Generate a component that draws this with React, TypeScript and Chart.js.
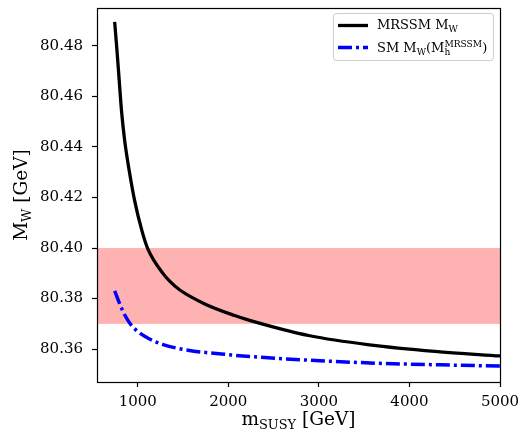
import { useEffect, useRef } from 'react';
import { Chart, registerables } from 'chart.js';

Chart.register(...registerables);

// ---- data ----
const mrssmMSusy = [745, 770, 795, 820, 855, 905, 965, 1045, 1110, 1280, 1355, 1465, 1740, 2070, 2235, 2900, 3560, 4280, 5000];
const mrssmMW = [80.4895, 80.4784, 80.4665, 80.4546, 80.4427, 80.4308, 80.4189, 80.407, 80.3998, 80.3899, 80.3868, 80.3834, 80.3779, 80.3733, 80.3714, 80.3653, 80.3617, 80.3591, 80.3573];

const smMSusy = [745, 800, 855, 930, 1005, 1115, 1280, 1555, 2035, 2235, 2900, 3670, 4335, 5000];
const smMW = [80.3831, 80.378, 80.3736, 80.3694, 80.3669, 80.3643, 80.3618, 80.3596, 80.3577, 80.3571, 80.3556, 80.3544, 80.3538, 80.3533];

const expBand = [80.37, 80.40];
const xTicks = [1000, 2000, 3000, 4000, 5000];
const yTicks = [80.36, 80.38, 80.40, 80.42, 80.44, 80.46, 80.48];
const xRange = [550, 5000];
const yRange = [80.347, 80.495];

const FONT = '"DejaVu Serif", "Liberation Serif", serif';
const dashDot = [14, 4, 3, 4];

type Seg = { t?: string; sup?: string; sub?: string; s: number; dy?: number; supDy?: number; subDy?: number };

function font(size: number) {
  return `${size}px ${FONT}`;
}

function segWidth(ctx: CanvasRenderingContext2D, g: Seg) {
  ctx.font = font(g.s);
  if (g.t !== undefined) return ctx.measureText(g.t).width;
  return Math.max(ctx.measureText(g.sup || '').width, ctx.measureText(g.sub || '').width);
}

function drawRich(ctx: CanvasRenderingContext2D, segs: Seg[], x: number, y: number, align: 'left' | 'center') {
  const widths = segs.map((g) => segWidth(ctx, g));
  const total = widths.reduce((a, b) => a + b, 0);
  let cx = align === 'center' ? x - total / 2 : x;
  ctx.textAlign = 'left';
  ctx.textBaseline = 'alphabetic';
  segs.forEach((g, i) => {
    ctx.font = font(g.s);
    if (g.t !== undefined) {
      ctx.fillText(g.t, cx, y + (g.dy || 0));
    } else {
      if (g.sup) ctx.fillText(g.sup, cx, y + (g.supDy || 0));
      if (g.sub) ctx.fillText(g.sub, cx, y + (g.subDy || 0));
    }
    cx += widths[i];
  });
}

const decor = {
  id: 'decor',
  beforeDatasetsDraw(chart: any) {
    const { ctx, chartArea: a, scales } = chart;
    const y = scales.y;
    const top = y.getPixelForValue(expBand[1]);
    const bot = y.getPixelForValue(expBand[0]);
    ctx.save();
    ctx.fillStyle = '#ffb2b2';
    ctx.fillRect(a.left, top, a.right - a.left, bot - top);
    ctx.restore();
  },
  afterDraw(chart: any) {
    const { ctx, chartArea: a } = chart;
    ctx.save();
    // frame
    ctx.strokeStyle = '#000';
    ctx.lineWidth = 1.2;
    ctx.strokeRect(Math.round(a.left) + 0.5, Math.round(a.top) + 0.5, Math.round(a.right - a.left), Math.round(a.bottom - a.top));

    // legend
    const lx = 333, ly = 13, lw = 160, lh = 47;
    ctx.beginPath();
    (ctx as any).roundRect(lx + 0.5, ly + 0.5, lw, lh, 3);
    ctx.fillStyle = 'rgba(255,255,255,0.85)';
    ctx.fill();
    ctx.strokeStyle = '#cccccc';
    ctx.lineWidth = 1;
    ctx.stroke();

    ctx.lineCap = 'butt';
    ctx.beginPath();
    ctx.strokeStyle = '#000';
    ctx.lineWidth = 3.3;
    ctx.moveTo(338, 25.5);
    ctx.lineTo(368, 25.5);
    ctx.stroke();

    ctx.beginPath();
    ctx.strokeStyle = '#0000ff';
    ctx.lineWidth = 3.5;
    ctx.setLineDash(dashDot);
    ctx.moveTo(338, 47.5);
    ctx.lineTo(368, 47.5);
    ctx.stroke();
    ctx.setLineDash([]);

    ctx.fillStyle = '#000';
    const ls = 13;
    drawRich(ctx, [
      { t: 'MRSSM M', s: ls },
      { t: 'W', s: ls * 0.7, dy: 2.5 },
    ], 377, 29, 'left');
    drawRich(ctx, [
      { t: 'SM M', s: ls },
      { t: 'W', s: ls * 0.7, dy: 2.5 },
      { t: '(M', s: ls },
      { sup: 'MRSSM', sub: 'h', s: ls * 0.7, supDy: -5.5, subDy: 3 },
      { t: ')', s: ls },
    ], 377, 52, 'left');

    // axis titles
    const ts = 18.5;
    drawRich(ctx, [
      { t: 'm', s: ts },
      { t: 'SUSY', s: ts * 0.7, dy: 3.5 },
      { t: ' [GeV]', s: ts },
    ], (a.left + a.right) / 2, 425, 'center');

    ctx.translate(27, (a.top + a.bottom) / 2);
    ctx.rotate(-Math.PI / 2);
    drawRich(ctx, [
      { t: 'M', s: ts },
      { t: 'W', s: ts * 0.7, dy: 3.5 },
      { t: ' [GeV]', s: ts },
    ], 0, 0, 'center');
    ctx.restore();
  },
};

export default function App() {
  const ref = useRef<HTMLCanvasElement | null>(null);
  useEffect(() => {
    if (!ref.current) return;
    const tickFont = { family: FONT, size: 15 };
    const chart = new Chart(ref.current, {
      type: 'line',
      data: {
        datasets: [
          {
            label: 'MRSSM M_W',
            data: mrssmMSusy.map((x, i) => ({ x, y: mrssmMW[i] })),
            borderColor: '#000000',
            borderWidth: 3.3,
            pointRadius: 0,
            cubicInterpolationMode: 'monotone',
            fill: false,
          },
          {
            label: 'SM M_W(M_h^MRSSM)',
            data: smMSusy.map((x, i) => ({ x, y: smMW[i] })),
            borderColor: '#0000ff',
            borderWidth: 3.5,
            borderDash: dashDot,
            borderCapStyle: 'butt',
            pointRadius: 0,
            cubicInterpolationMode: 'monotone',
            fill: false,
          },
        ],
      },
      options: {
        animation: false,
        responsive: false,
        layout: { padding: { left: 0, right: 24, top: 8, bottom: 0 } },
        plugins: { legend: { display: false }, tooltip: { enabled: false } },
        scales: {
          x: {
            type: 'linear',
            min: xRange[0],
            max: xRange[1],
            afterBuildTicks: (s: any) => { s.ticks = xTicks.map((v) => ({ value: v })); },
            afterFit: (s: any) => { s.height = 55; s.paddingLeft = 0; s.paddingRight = 0; },
            border: { display: false },
            grid: { drawOnChartArea: false, drawTicks: true, tickLength: 5, tickColor: '#000', tickWidth: 1.2 },
            ticks: { color: '#000', font: tickFont, padding: 6, maxRotation: 0, callback: (v: any) => String(v) },
          },
          y: {
            type: 'linear',
            min: yRange[0],
            max: yRange[1],
            afterBuildTicks: (s: any) => { s.ticks = yTicks.map((v) => ({ value: v })); },
            afterFit: (s: any) => { s.width = 97; s.paddingTop = 0; s.paddingBottom = 0; },
            border: { display: false },
            grid: { drawOnChartArea: false, drawTicks: true, tickLength: 5, tickColor: '#000', tickWidth: 1.2 },
            ticks: { color: '#000', font: tickFont, padding: 9, callback: (v: any) => Number(v).toFixed(2) },
          },
        },
      },
      plugins: [decor],
    } as any);
    return () => chart.destroy();
  }, []);
  return (
    <div style={{ position: 'fixed', left: 0, top: 0, width: 524, height: 437, background: '#fff' }}>
      <canvas ref={ref} width={524} height={437} style={{ display: 'block', width: 524, height: 437 }} />
    </div>
  );
}
